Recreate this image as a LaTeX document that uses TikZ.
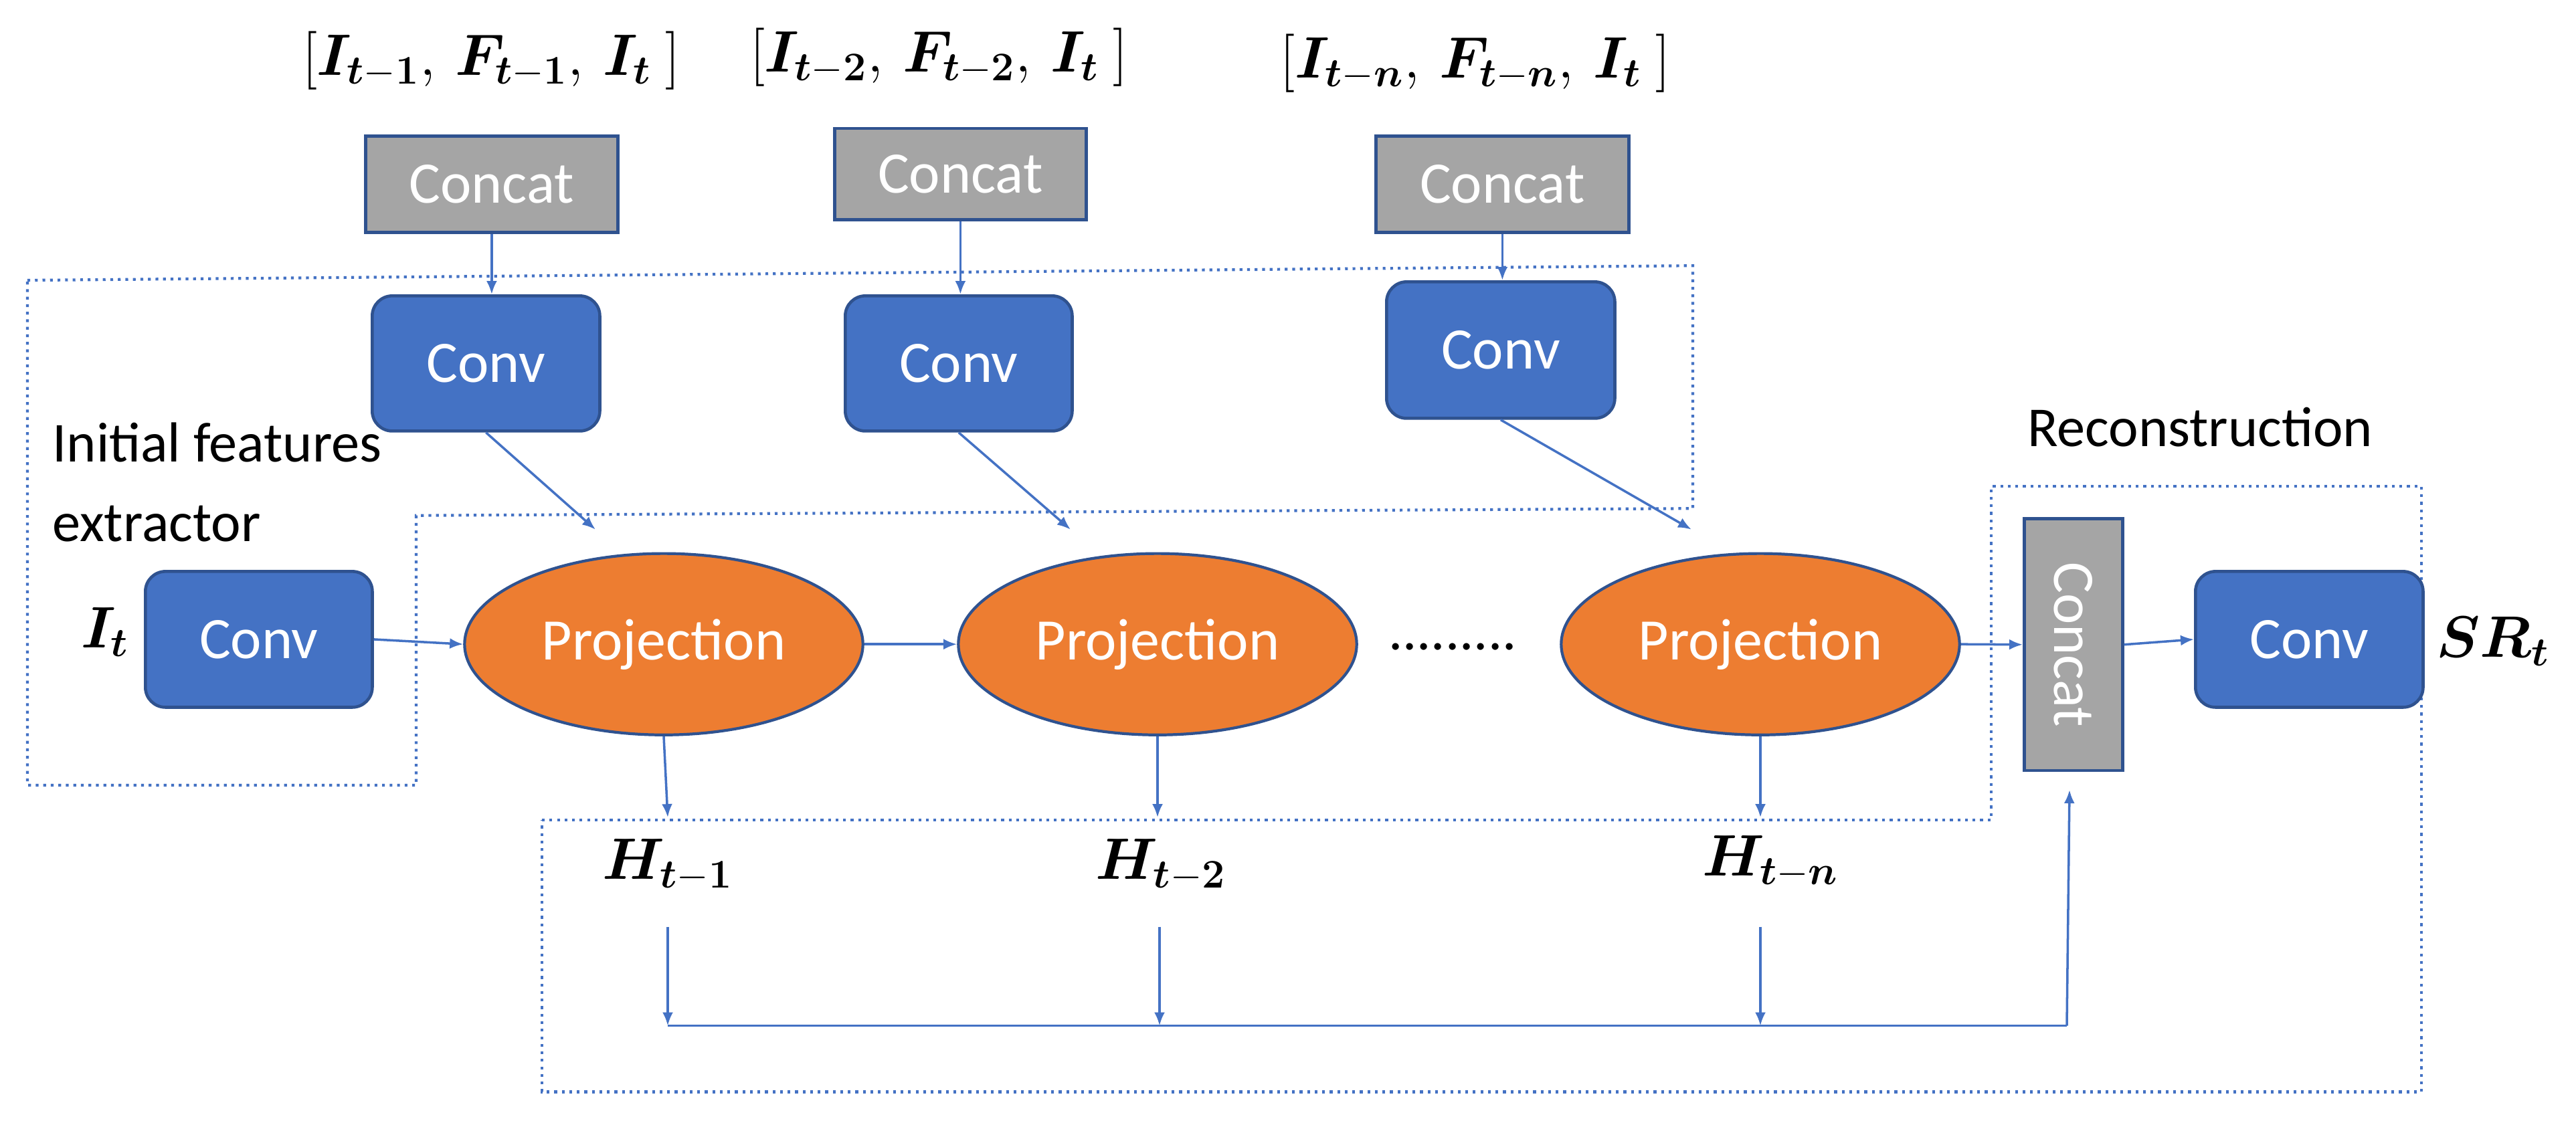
\documentclass[tikz,border=0pt]{standalone}
\usepackage{amsmath,bm}
\usepackage{fontspec}
\setmainfont{Carlito}
\usetikzlibrary{shapes.geometric,arrows.meta}
\definecolor{cblue}{HTML}{4472C4}
\definecolor{cdark}{HTML}{2F528F}
\definecolor{corange}{HTML}{ED7D31}
\definecolor{cgray}{HTML}{A5A5A5}
\begin{document}
\begin{tikzpicture}[x=0.01cm,y=-0.00875cm,
  conv/.style={draw=cdark,line width=1.3pt,fill=cblue,rounded corners=0.3cm,text=white,font=\fontsize{25}{30}\selectfont,anchor=north west,inner sep=0},
  cat/.style={draw=cdark,line width=1.3pt,fill=cgray,text=white,font=\fontsize{25}{30}\selectfont,anchor=north west,inner sep=0},
  proj/.style={ellipse,draw=cdark,line width=1.2pt,fill=corange,text=white,minimum width=5.95cm,minimum height=2.71cm,font=\fontsize{25}{30}\selectfont,inner sep=0},
  lab/.style={font=\fontsize{24}{34}\selectfont},
  mlab/.style={font=\fontsize{26}{30}\selectfont},
  arr/.style={draw=cblue,line width=1pt,-{Latex[length=0.2cm,width=0.16cm]}},
  dbox/.style={draw=cblue,line width=1.2pt,dotted}]
\useasboundingbox (0,0) rectangle (3850,1932.6);
% dotted boxes
\draw[dbox] (41,479) -- (2530,454) -- (2530,869) -- (622,881) -- (622,1342) -- (41,1342) -- cycle;
\draw[dbox] (810,1401) -- (2976,1401) -- (2976,831) -- (3619,831) -- (3619,1866) -- (810,1866) -- cycle;
% labels
\node[mlab] (l1) at (734,104) {$[\bm{I}_{\bm{t}-\bm{1}},\,\bm{F}_{\bm{t}-\bm{1}},\,\bm{I}_{\bm{t}}\ ]$};
\node[mlab] (l2) at (1403,98) {$[\bm{I}_{\bm{t}-\bm{2}},\,\bm{F}_{\bm{t}-\bm{2}},\,\bm{I}_{\bm{t}}\ ]$};
\node[mlab] (l3) at (2205,108) {$[\bm{I}_{\bm{t}-\bm{n}},\,\bm{F}_{\bm{t}-\bm{n}},\,\bm{I}_{\bm{t}}\ ]$};
% concat boxes
\node[cat,minimum width=3.77cm,minimum height=1.44cm] (c1) at (544,230) {Concat};
\node[cat,minimum width=3.76cm,minimum height=1.36cm] (c2) at (1245,217) {Concat};
\node[cat,minimum width=3.78cm,minimum height=1.44cm] (c3) at (2054,230) {Concat};
% conv top
\node[conv,minimum width=3.4cm,minimum height=2.02cm] (v1) at (554,503) {Conv};
\node[conv,minimum width=3.39cm,minimum height=2.02cm] (v2) at (1261,503) {Conv};
\node[conv,minimum width=3.41cm,minimum height=2.04cm] (v3) at (2070,479) {Conv};
% initial
\node[lab,anchor=west,align=left] (ife) at (66,824) {Initial features\\extractor};
\node[mlab] (it) at (157,1080) {$\bm{I}_{\bm{t}}$};
\node[conv,minimum width=3.39cm,minimum height=2.03cm] (v0) at (215,974) {Conv};
% projections
\node[proj] (p1) at (992,1101) {Projection};
\node[proj] (p2) at (1730,1101) {Projection};
\node[proj] (p3) at (2631,1101) {Projection};
\node[lab] (dots) at (2171,1105) {.........};
% reconstruction
\node[lab] (rec) at (3288,730) {Reconstruction};
\node[cat,minimum width=1.47cm,minimum height=3.76cm] (rc) at (3023,884) {};
\node[text=white,font=\fontsize{25}{30}\selectfont,rotate=-90] (rct) at (rc.center) {Concat};
\node[conv,minimum width=3.4cm,minimum height=2.03cm] (v4) at (3279,974) {Conv};
\node[mlab] (sr) at (3726,1096) {$\bm{S}\bm{R}_{\bm{t}}$};
% H labels
\node[mlab] (h1) at (998,1479) {$\bm{H}_{\bm{t}-\bm{1}}$};
\node[mlab] (h2) at (1735,1479) {$\bm{H}_{\bm{t}-\bm{2}}$};
\node[mlab] (h3) at (2646,1473) {$\bm{H}_{\bm{t}-\bm{n}}$};
% coordinates
\coordinate (e1) at (998,1397); \coordinate (e2) at (1730,1397); \coordinate (e3) at (2631,1397);
\coordinate (s1) at (998,1584); \coordinate (s2) at (1733,1584); \coordinate (s3) at (2631,1584);
\coordinate (b1) at (998,1753); \coordinate (b2) at (1733,1753); \coordinate (b3) at (2631,1753);
\coordinate (bc) at (3089,1753); \coordinate (rcb) at (3093,1350);
% arrows
\draw[arr] (c1.south) -- (c1.south |- v1.north);
\draw[arr] (c2.south) -- (c2.south |- v2.north);
\draw[arr] (c3.south) -- (c3.south |- v3.north);
\draw[arr] (v1.south) -- (890,905);
\draw[arr] (v2.south) -- (1600,905);
\draw[arr] (v3.south) -- (2528,905);
\draw[arr] (v0.east) -- (p1.west);
\draw[arr] (p1.east) -- (p2.west);
\draw[arr] (p3.east) -- (rc.west);
\draw[arr] (rc.east) -- (v4.west);
\draw[arr] (p1.south) -- (e1);
\draw[arr] (p2.south) -- (e2);
\draw[arr] (p3.south) -- (e3);
\draw[arr] (s1) -- (b1);
\draw[arr] (s2) -- (b2);
\draw[arr] (s3) -- (b3);
\draw[draw=cblue,line width=1pt] (b1) -- (bc);
\draw[arr] (bc) -- (rcb);
\end{tikzpicture}
\end{document}
